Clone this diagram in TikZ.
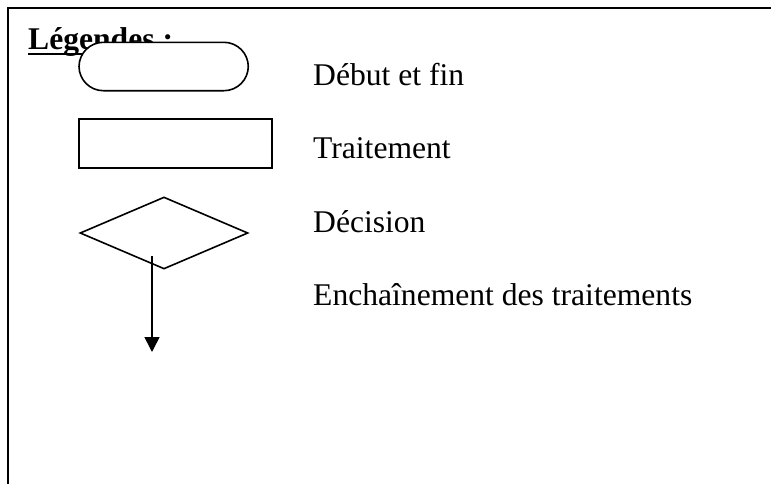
\documentclass[tikz,border=0pt]{standalone}
\usepackage{fontspec}
\setmainfont{Liberation Serif}
\usetikzlibrary{shapes.geometric,arrows.meta}
\begin{document}
\begin{tikzpicture}[x=1pt,y=-1pt,
  shapeline/.style={draw=black,line width=1.6pt,fill=white},
  legendtext/.style={anchor=base west,inner sep=0pt,font=\fontsize{31.6}{36}\selectfont},
  frameline/.style={draw=black,line width=2pt}]
\useasboundingbox (0,0) rectangle (771,483);

% open frame: top edge and left edge only
\coordinate (ftl) at (8.3,8.3);
\coordinate (ftr) at (772,8.3);
\coordinate (fbl) at (8.3,484);
\draw[frameline] (ftr) -- (ftl) -- (fbl);

% heading, underlined
\node[legendtext,font=\fontsize{31.6}{36}\selectfont\bfseries] (title) at (28,49) {Légendes :};
\draw[line width=2pt] ([yshift=-4.8pt]title.base west) -- ([yshift=-4.8pt]title.base east);

% legend symbols
\draw[shapeline,rounded corners=24.4pt] (79,42.3) rectangle (248.3,90.7);
\node[inner sep=0pt,minimum width=169.3pt,minimum height=48.4pt] (terminal) at (163.6,66.5) {};

\node[shapeline,rectangle,inner sep=0pt,minimum width=193pt,minimum height=49pt] (process) at (175.5,143.5) {};

\node[shapeline,diamond,aspect=2.33,inner sep=0pt,minimum width=168pt,minimum height=72pt] (decision) at (164,233) {};

\coordinate (flowstart) at (152,256);
\coordinate (flowend) at (152,352);
\draw[line width=1.6pt,-{Triangle[length=15pt,width=15pt]}] (flowstart) -- (flowend);

% descriptions
\node[legendtext] (tdebut) at (313,85) {Début et fin};
\node[legendtext] (ttrait) at (313,158) {Traitement};
\node[legendtext] (tdecis) at (313,232) {Décision};
\node[legendtext] (tencha) at (313,305) {Enchaînement des traitements};
\end{tikzpicture}
\end{document}
